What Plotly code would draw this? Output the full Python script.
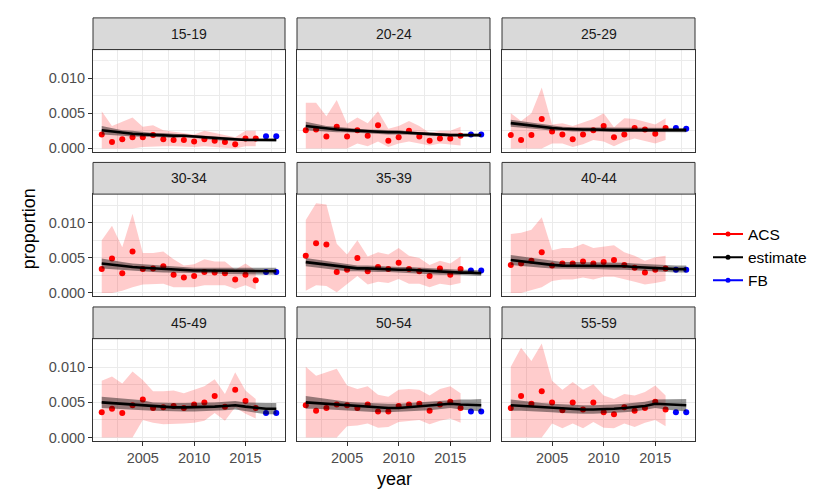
import plotly.graph_objects as go

# ---------------- data ----------------
YEARS_ACS = [2001, 2002, 2003, 2004, 2005, 2006, 2007, 2008, 2009, 2010,
             2011, 2012, 2013, 2014, 2015, 2016]
YEARS_FB = [2017, 2018]
YEARS_EST = [2001, 2002, 2003, 2004, 2005, 2006, 2007, 2008, 2009, 2010,
             2011, 2012, 2013, 2014, 2015, 2016, 2017, 2018]
GROUPS = ["15-19", "20-24", "25-29", "30-34", "35-39", "40-44",
          "45-49", "50-54", "55-59"]

ACS_1519 = [0.0020, 0.0009, 0.0013, 0.0016, 0.0016, 0.0019, 0.0013, 0.0012,
            0.0012, 0.0010, 0.0013, 0.0011, 0.0009, 0.0006, 0.0014, 0.0014]
ACS_LO_1519 = [0.0, 0.0, 0.0, 0.0, 0.0002, 0.0003, 0.0003, 0.0003,
               0.0003, 0.0002, 0.0003, 0.0002, 0.0001, 0.0, 0.0003, 0.0003]
ACS_HI_1519 = [0.0053, 0.0032, 0.0038, 0.0044, 0.0031, 0.0033, 0.0026, 0.0024,
               0.0022, 0.0020, 0.0025, 0.0022, 0.0019, 0.0016, 0.0025, 0.0025]
FB_1519 = [0.00175, 0.00175]
EST_1519 = [0.0026, 0.0024, 0.0022, 0.0021, 0.0020, 0.0019, 0.0019, 0.0018, 0.0018,
            0.0017, 0.0016, 0.0014, 0.0013, 0.0012, 0.0012, 0.0012, 0.0012, 0.0012]
EST_SE_1519 = [0.0006, 0.0005, 0.0004, 0.0004, 0.0003, 0.0003, 0.0003, 0.0003, 0.0002,
               0.0002, 0.0002, 0.0002, 0.0002, 0.0002, 0.0002, 0.0002, 0.0002, 0.0002]

ACS_2024 = [0.0026, 0.0027, 0.0017, 0.0031, 0.0017, 0.0026, 0.0018, 0.0033,
            0.0011, 0.0016, 0.0025, 0.0017, 0.0011, 0.0014, 0.0014, 0.0018]
ACS_LO_2024 = [0.0, 0.0, 0.0, 0.0, 0.0, 0.0007, 0.0003, 0.0010,
               0.0002, 0.0007, 0.0010, 0.0007, 0.0004, 0.0007, 0.0006, 0.0004]
ACS_HI_2024 = [0.0065, 0.0065, 0.0046, 0.0069, 0.0035, 0.0044, 0.0036, 0.0053,
               0.0028, 0.0032, 0.0039, 0.0032, 0.0022, 0.0025, 0.0025, 0.0031]
FB_2024 = [0.0020, 0.0020]
EST_2024 = [0.0032, 0.0030, 0.0028, 0.0027, 0.0026, 0.0025, 0.0024, 0.0024, 0.0023,
            0.0023, 0.0022, 0.0021, 0.0020, 0.0020, 0.0019, 0.0019, 0.0019, 0.0019]
EST_SE_2024 = [0.0006, 0.0005, 0.0004, 0.0004, 0.0003, 0.0003, 0.0003, 0.0003, 0.0003,
               0.0003, 0.0002, 0.0002, 0.0002, 0.0002, 0.0002, 0.0002, 0.0002, 0.0002]

ACS_2529 = [0.0019, 0.0012, 0.0019, 0.0042, 0.0024, 0.0020, 0.0013, 0.0020,
            0.0026, 0.0032, 0.0016, 0.0020, 0.0029, 0.0027, 0.0021, 0.0029]
ACS_LO_2529 = [0.0, 0.0, 0.0, 0.0, 0.0007, 0.0007, 0.0002, 0.0006,
               0.0012, 0.0010, 0.0003, 0.0010, 0.0014, 0.0010, 0.0007, 0.0012]
ACS_HI_2529 = [0.0050, 0.0039, 0.0050, 0.0087, 0.0034, 0.0036, 0.0032, 0.0037,
               0.0042, 0.0050, 0.0030, 0.0043, 0.0042, 0.0038, 0.0034, 0.0043]
FB_2529 = [0.0029, 0.0028]
EST_2529 = [0.0036, 0.0034, 0.0032, 0.0031, 0.0029, 0.0028, 0.0027, 0.0027, 0.0027,
            0.0026, 0.0026, 0.0026, 0.0026, 0.0026, 0.0026, 0.0026, 0.0026, 0.0026]
EST_SE_2529 = [0.0005, 0.0005, 0.0004, 0.0004, 0.0004, 0.0003, 0.0003, 0.0003, 0.0003,
               0.0003, 0.0003, 0.0003, 0.0003, 0.0003, 0.0003, 0.0003, 0.0003, 0.0003]

ACS_3034 = [0.0034, 0.0049, 0.0028, 0.0059, 0.0034, 0.0035, 0.0038, 0.0026,
            0.0022, 0.0024, 0.0030, 0.0029, 0.0028, 0.0019, 0.0026, 0.0018]
ACS_LO_3034 = [0.0, 0.0, 0.0003, 0.0008, 0.0012, 0.0013, 0.0013, 0.0008,
               0.0008, 0.0008, 0.0011, 0.0011, 0.0011, 0.0006, 0.0011, 0.0005]
ACS_HI_3034 = [0.0075, 0.0096, 0.0065, 0.0113, 0.0057, 0.0057, 0.0059, 0.0048,
               0.0039, 0.0041, 0.0048, 0.0045, 0.0045, 0.0033, 0.0042, 0.0032]
FB_3034 = [0.0030, 0.0030]
EST_3034 = [0.0042, 0.0040, 0.0038, 0.0037, 0.0036, 0.0035, 0.0034, 0.0033, 0.0033,
            0.0032, 0.0032, 0.0032, 0.0031, 0.0031, 0.0031, 0.0031, 0.0031, 0.0031]
EST_SE_3034 = [0.0007, 0.0006, 0.0006, 0.0005, 0.0005, 0.0005, 0.0005, 0.0004, 0.0004,
               0.0004, 0.0004, 0.0004, 0.0004, 0.0004, 0.0004, 0.0004, 0.0005, 0.0005]

ACS_3539 = [0.0053, 0.0071, 0.0069, 0.0030, 0.0033, 0.0050, 0.0031, 0.0037,
            0.0034, 0.0043, 0.0034, 0.0031, 0.0024, 0.0035, 0.0026, 0.0034]
ACS_LO_3539 = [0.0003, 0.0011, 0.0010, 0.0001, 0.0013, 0.0024, 0.0012, 0.0016,
               0.0014, 0.0020, 0.0013, 0.0013, 0.0008, 0.0013, 0.0011, 0.0014]
ACS_HI_3539 = [0.0104, 0.0128, 0.0126, 0.0070, 0.0055, 0.0075, 0.0052, 0.0058,
               0.0055, 0.0064, 0.0053, 0.0050, 0.0040, 0.0046, 0.0042, 0.0052]
FB_3539 = [0.0032, 0.0032]
EST_3539 = [0.0044, 0.0042, 0.0040, 0.0038, 0.0036, 0.0035, 0.0035, 0.0034, 0.0034,
            0.0033, 0.0033, 0.0032, 0.0031, 0.0030, 0.0030, 0.0029, 0.0029, 0.0028]
EST_SE_3539 = [0.0006, 0.0006, 0.0005, 0.0005, 0.0005, 0.0004, 0.0004, 0.0004, 0.0004,
               0.0004, 0.0004, 0.0004, 0.0004, 0.0004, 0.0004, 0.0004, 0.0004, 0.0004]

ACS_4044 = [0.0040, 0.0042, 0.0046, 0.0058, 0.0039, 0.0042, 0.0042, 0.0045,
            0.0042, 0.0044, 0.0047, 0.0040, 0.0036, 0.0029, 0.0033, 0.0035]
ACS_LO_4044 = [0.0, 0.0, 0.0004, 0.0008, 0.0017, 0.0019, 0.0019, 0.0022,
               0.0019, 0.0023, 0.0023, 0.0019, 0.0016, 0.0012, 0.0014, 0.0017]
ACS_HI_4044 = [0.0084, 0.0086, 0.0090, 0.0108, 0.0061, 0.0064, 0.0064, 0.0070,
               0.0064, 0.0066, 0.0068, 0.0058, 0.0053, 0.0046, 0.0051, 0.0053]
FB_4044 = [0.0033, 0.0033]
EST_4044 = [0.0047, 0.0045, 0.0043, 0.0042, 0.0040, 0.0039, 0.0039, 0.0039, 0.0039,
            0.0039, 0.0038, 0.0038, 0.0037, 0.0036, 0.0035, 0.0035, 0.0034, 0.0034]
EST_SE_4044 = [0.0007, 0.0007, 0.0006, 0.0006, 0.0005, 0.0005, 0.0005, 0.0005, 0.0005,
               0.0005, 0.0005, 0.0005, 0.0005, 0.0005, 0.0005, 0.0005, 0.0005, 0.0005]

ACS_4549 = [0.0036, 0.0041, 0.0035, 0.0046, 0.0054, 0.0042, 0.0043, 0.0045,
            0.0042, 0.0047, 0.0050, 0.0059, 0.0044, 0.0068, 0.0052, 0.0042]
ACS_LO_4549 = [0.0, 0.0, 0.0, 0.0, 0.0025, 0.0021, 0.0019, 0.0019,
               0.0020, 0.0021, 0.0024, 0.0035, 0.0024, 0.0043, 0.0034, 0.0027]
ACS_HI_4549 = [0.0081, 0.0087, 0.0077, 0.0094, 0.0082, 0.0066, 0.0066, 0.0067,
               0.0063, 0.0068, 0.0073, 0.0083, 0.0062, 0.0093, 0.0067, 0.0055]
FB_4549 = [0.0035, 0.0035]
EST_4549 = [0.0050, 0.0049, 0.0048, 0.0047, 0.0046, 0.0044, 0.0043, 0.0043, 0.0043,
            0.0043, 0.0044, 0.0044, 0.0045, 0.0046, 0.0044, 0.0042, 0.0041, 0.0041]
EST_SE_4549 = [0.0008, 0.0008, 0.0007, 0.0007, 0.0007, 0.0006, 0.0006, 0.0006, 0.0006,
               0.0006, 0.0006, 0.0006, 0.0006, 0.0006, 0.0006, 0.0007, 0.0008, 0.0008]

ACS_5054 = [0.0046, 0.0038, 0.0042, 0.0047, 0.0046, 0.0042, 0.0047, 0.0037,
            0.0037, 0.0045, 0.0047, 0.0048, 0.0038, 0.0047, 0.0051, 0.0042]
ACS_LO_5054 = [0.0, 0.0, 0.0, 0.0, 0.0016, 0.0017, 0.0020, 0.0014,
               0.0015, 0.0022, 0.0024, 0.0025, 0.0019, 0.0024, 0.0027, 0.0021]
ACS_HI_5054 = [0.0101, 0.0088, 0.0093, 0.0098, 0.0074, 0.0069, 0.0073, 0.0061,
               0.0058, 0.0068, 0.0069, 0.0068, 0.0060, 0.0069, 0.0073, 0.0063]
FB_5054 = [0.0037, 0.0037]
EST_5054 = [0.0050, 0.0049, 0.0047, 0.0046, 0.0045, 0.0044, 0.0043, 0.0042, 0.0042,
            0.0042, 0.0043, 0.0044, 0.0045, 0.0046, 0.0048, 0.0047, 0.0046, 0.0046]
EST_SE_5054 = [0.0009, 0.0008, 0.0007, 0.0007, 0.0006, 0.0006, 0.0006, 0.0006, 0.0006,
               0.0006, 0.0006, 0.0006, 0.0006, 0.0006, 0.0006, 0.0007, 0.0008, 0.0009]

ACS_5559 = [0.0042, 0.0059, 0.0048, 0.0066, 0.0050, 0.0039, 0.0050, 0.0040,
            0.0050, 0.0036, 0.0033, 0.0043, 0.0038, 0.0042, 0.0051, 0.0040]
ACS_LO_5559 = [0.0, 0.0, 0.0, 0.0, 0.0020, 0.0013, 0.0020, 0.0013,
               0.0022, 0.0014, 0.0013, 0.0020, 0.0015, 0.0021, 0.0025, 0.0016]
ACS_HI_5559 = [0.0101, 0.0128, 0.0109, 0.0134, 0.0081, 0.0068, 0.0079, 0.0068,
               0.0076, 0.0060, 0.0055, 0.0062, 0.0060, 0.0065, 0.0074, 0.0060]
FB_5559 = [0.0036, 0.0036]
EST_5559 = [0.0046, 0.0045, 0.0044, 0.0043, 0.0042, 0.0041, 0.0040, 0.0040, 0.0040,
            0.0040, 0.0041, 0.0042, 0.0043, 0.0045, 0.0048, 0.0047, 0.0046, 0.0046]
EST_SE_5559 = [0.0008, 0.0007, 0.0007, 0.0006, 0.0006, 0.0006, 0.0006, 0.0006, 0.0006,
               0.0006, 0.0006, 0.0006, 0.0006, 0.0006, 0.0006, 0.0007, 0.0008, 0.0009]

PANELS = [
    (ACS_1519, ACS_LO_1519, ACS_HI_1519, FB_1519, EST_1519, EST_SE_1519),
    (ACS_2024, ACS_LO_2024, ACS_HI_2024, FB_2024, EST_2024, EST_SE_2024),
    (ACS_2529, ACS_LO_2529, ACS_HI_2529, FB_2529, EST_2529, EST_SE_2529),
    (ACS_3034, ACS_LO_3034, ACS_HI_3034, FB_3034, EST_3034, EST_SE_3034),
    (ACS_3539, ACS_LO_3539, ACS_HI_3539, FB_3539, EST_3539, EST_SE_3539),
    (ACS_4044, ACS_LO_4044, ACS_HI_4044, FB_4044, EST_4044, EST_SE_4044),
    (ACS_4549, ACS_LO_4549, ACS_HI_4549, FB_4549, EST_4549, EST_SE_4549),
    (ACS_5054, ACS_LO_5054, ACS_HI_5054, FB_5054, EST_5054, EST_SE_5054),
    (ACS_5559, ACS_LO_5559, ACS_HI_5559, FB_5559, EST_5559, EST_SE_5559),
]

# ---------------- layout geometry (pixels) ----------------
W, H = 830, 498
COLS = [(85, 277), (289, 482), (494, 687)]
ROWS = [(42, 145), (188, 291), (334, 437)]
STRIP_H = 32
FONT = "Liberation Sans, Arial, Helvetica, sans-serif"

RED = "#FF0000"
BLUE = "#0000FF"

fig = go.Figure()
layout = {}
shapes = []
annotations = []

for i, (g, (acs, lo, hi, fb, est, se)) in enumerate(zip(GROUPS, PANELS)):
    r, c = divmod(i, 3)
    n = i + 1
    xa = "x" if n == 1 else f"x{n}"
    ya = "y" if n == 1 else f"y{n}"

    # ACS confidence ribbon
    fig.add_trace(go.Scatter(
        x=YEARS_ACS + YEARS_ACS[::-1], y=hi + lo[::-1],
        mode="lines", line=dict(width=0), fill="toself",
        fillcolor="rgba(255,0,0,0.2)", hoverinfo="skip",
        showlegend=False, xaxis=xa, yaxis=ya))
    # ACS points
    fig.add_trace(go.Scatter(
        x=YEARS_ACS, y=acs, mode="markers",
        marker=dict(color=RED, size=6), showlegend=False,
        xaxis=xa, yaxis=ya))
    # FB points
    fig.add_trace(go.Scatter(
        x=YEARS_FB, y=fb, mode="markers",
        marker=dict(color=BLUE, size=6), showlegend=False,
        xaxis=xa, yaxis=ya))
    # estimate ribbon
    up = [e + s for e, s in zip(est, se)]
    dn = [e - s for e, s in zip(est, se)]
    fig.add_trace(go.Scatter(
        x=YEARS_EST + YEARS_EST[::-1], y=up + dn[::-1],
        mode="lines", line=dict(width=0), fill="toself",
        fillcolor="rgba(0,0,0,0.42)", hoverinfo="skip",
        showlegend=False, xaxis=xa, yaxis=ya))
    # estimate line
    fig.add_trace(go.Scatter(
        x=YEARS_EST, y=est, mode="lines",
        line=dict(color="black", width=2.6), showlegend=False,
        xaxis=xa, yaxis=ya))

    x0, x1 = COLS[c]
    y0, y1 = ROWS[r]
    common = dict(showline=True, mirror=True, linecolor="#333333", linewidth=1,
                  showgrid=True, gridcolor="#EBEBEB", gridwidth=1.1,
                  zeroline=False, ticks="", tickcolor="#333333", ticklen=4,
                  tickfont=dict(family=FONT, size=14.5, color="#4D4D4D"))
    layout[f"xaxis{'' if n == 1 else n}"] = dict(
        common, domain=[x0 / W, x1 / W], anchor=ya,
        range=[2000.15, 2018.85], tick0=2000, dtick=5,
        minor=dict(showgrid=True, gridcolor="#EBEBEB", gridwidth=0.55,
                   tick0=2000, dtick=2.5),
        showticklabels=(r == 2),
        ticks="outside" if r == 2 else "")
    layout[f"yaxis{'' if n == 1 else n}"] = dict(
        common, domain=[(H - y1) / H, (H - y0) / H], anchor=xa,
        range=[-0.00045, 0.0141], tick0=0, dtick=0.005, tickformat=".3f",
        minor=dict(showgrid=True, gridcolor="#EBEBEB", gridwidth=0.55,
                   tick0=0, dtick=0.0025),
        showticklabels=(c == 0),
        ticks="outside" if c == 0 else "")

    # strip
    shapes.append(dict(type="rect", xref="paper", yref="paper",
                       x0=x0 / W, x1=x1 / W,
                       y0=(H - y0) / H, y1=(H - y0 + STRIP_H) / H,
                       fillcolor="#D9D9D9", line=dict(color="#333333", width=1),
                       layer="above"))
    annotations.append(dict(text=g, xref="paper", yref="paper",
                            x=(x0 + x1) / 2 / W, y=(H - y0 + STRIP_H / 2) / H,
                            showarrow=False, xanchor="center", yanchor="middle",
                            font=dict(family=FONT, size=14, color="#1A1A1A")))

# legend-only traces
for name, col in [("ACS", RED), ("estimate", "black"), ("FB", BLUE)]:
    fig.add_trace(go.Scatter(x=[None], y=[None], mode="lines+markers", name=name,
                             line=dict(color=col, width=2),
                             marker=dict(color=col, size=5),
                             showlegend=True))

# axis titles
annotations.append(dict(text="year", xref="paper", yref="paper",
                        x=(COLS[0][0] + COLS[2][1]) / 2 / W, y=(H - 476) / H,
                        showarrow=False, xanchor="center", yanchor="middle",
                        font=dict(family=FONT, size=18, color="black")))
annotations.append(dict(text="proportion", xref="paper", yref="paper",
                        x=21 / W, y=(H - (ROWS[0][0] - STRIP_H + ROWS[2][1]) / 2) / H,
                        showarrow=False, xanchor="center", yanchor="middle",
                        textangle=-90,
                        font=dict(family=FONT, size=18, color="black")))

fig.update_layout(
    width=W, height=H,
    margin=dict(l=0, r=0, t=0, b=0),
    paper_bgcolor="white", plot_bgcolor="white",
    font=dict(family=FONT, color="#333333"),
    shapes=shapes, annotations=annotations,
    legend=dict(x=700 / W, y=(H - 252) / H, xanchor="left", yanchor="middle",
                font=dict(family=FONT, size=15.5, color="black"),
                bgcolor="rgba(0,0,0,0)", itemwidth=30, tracegroupgap=0),
    hovermode=False,
    **layout,
)

fig.write_html("out.html")
